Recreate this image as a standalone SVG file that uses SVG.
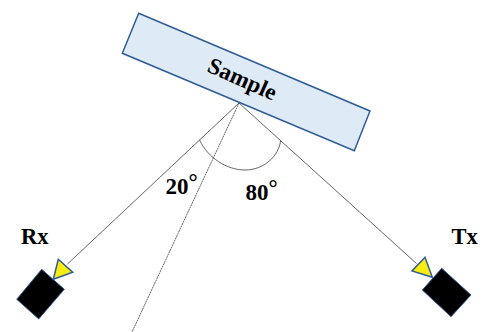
<svg xmlns="http://www.w3.org/2000/svg" width="482" height="332" viewBox="0 0 482 332">
<style>
.t{font-family:"Liberation Serif","Times New Roman",serif;font-weight:bold;fill:#000}
.s{stroke:#2f5c98;stroke-linejoin:miter}
.l{fill:none;stroke:#555;stroke-width:.9}
</style>
<rect width="482" height="332" fill="#fff"/>
<g id="connectors">
<path class="l" d="M239 103L67.5 264"/>
<path class="l" d="M239 103L416.5 263.5"/>
<path class="l" d="M239 103L132 332" stroke-dasharray="2 .6"/>
<path class="l" d="M199.5 140C208 158 227 170 245 170C264 170 279 156 280.7 140"/>
</g>
<g id="sample">
<path class="s" d="M138.7 13.3L370 111L354.3 150.7L122.3 53.3Z" fill="#deebf6" stroke-width="1.5"/>
<text class="t" transform="translate(206 71) rotate(24)" font-size="23">Sample</text>
</g>
<g id="rx">
<path class="s" d="M41.7 269.3L64.3 289.3L38.7 319L16.7 299.3Z" fill="#000" stroke-width="1"/>
<path class="s" d="M58.3 259.3L72.7 272.3L53.3 279.3Z" fill="#f8ec10" stroke-width="1.500"/>
<text class="t" x="21" y="244" font-size="22.500">Rx</text>
</g>
<g id="tx">
<path class="s" d="M441.7 268.3L471 295L451 316.7L422.3 290Z" fill="#000" stroke-width="1"/>
<path class="s" d="M425 257.3L412 271L432.3 277.3Z" fill="#f8ec10" stroke-width="1.500"/>
<text class="t" x="451.500" y="244" font-size="22.500">Tx</text>
</g>
<g id="angles">
<text class="t" x="165.500" y="194" font-size="23">20<tspan dy="-4">°</tspan></text>
<text class="t" x="245.500" y="200" font-size="23">80<tspan dy="-4">°</tspan></text>
</g>
</svg>
